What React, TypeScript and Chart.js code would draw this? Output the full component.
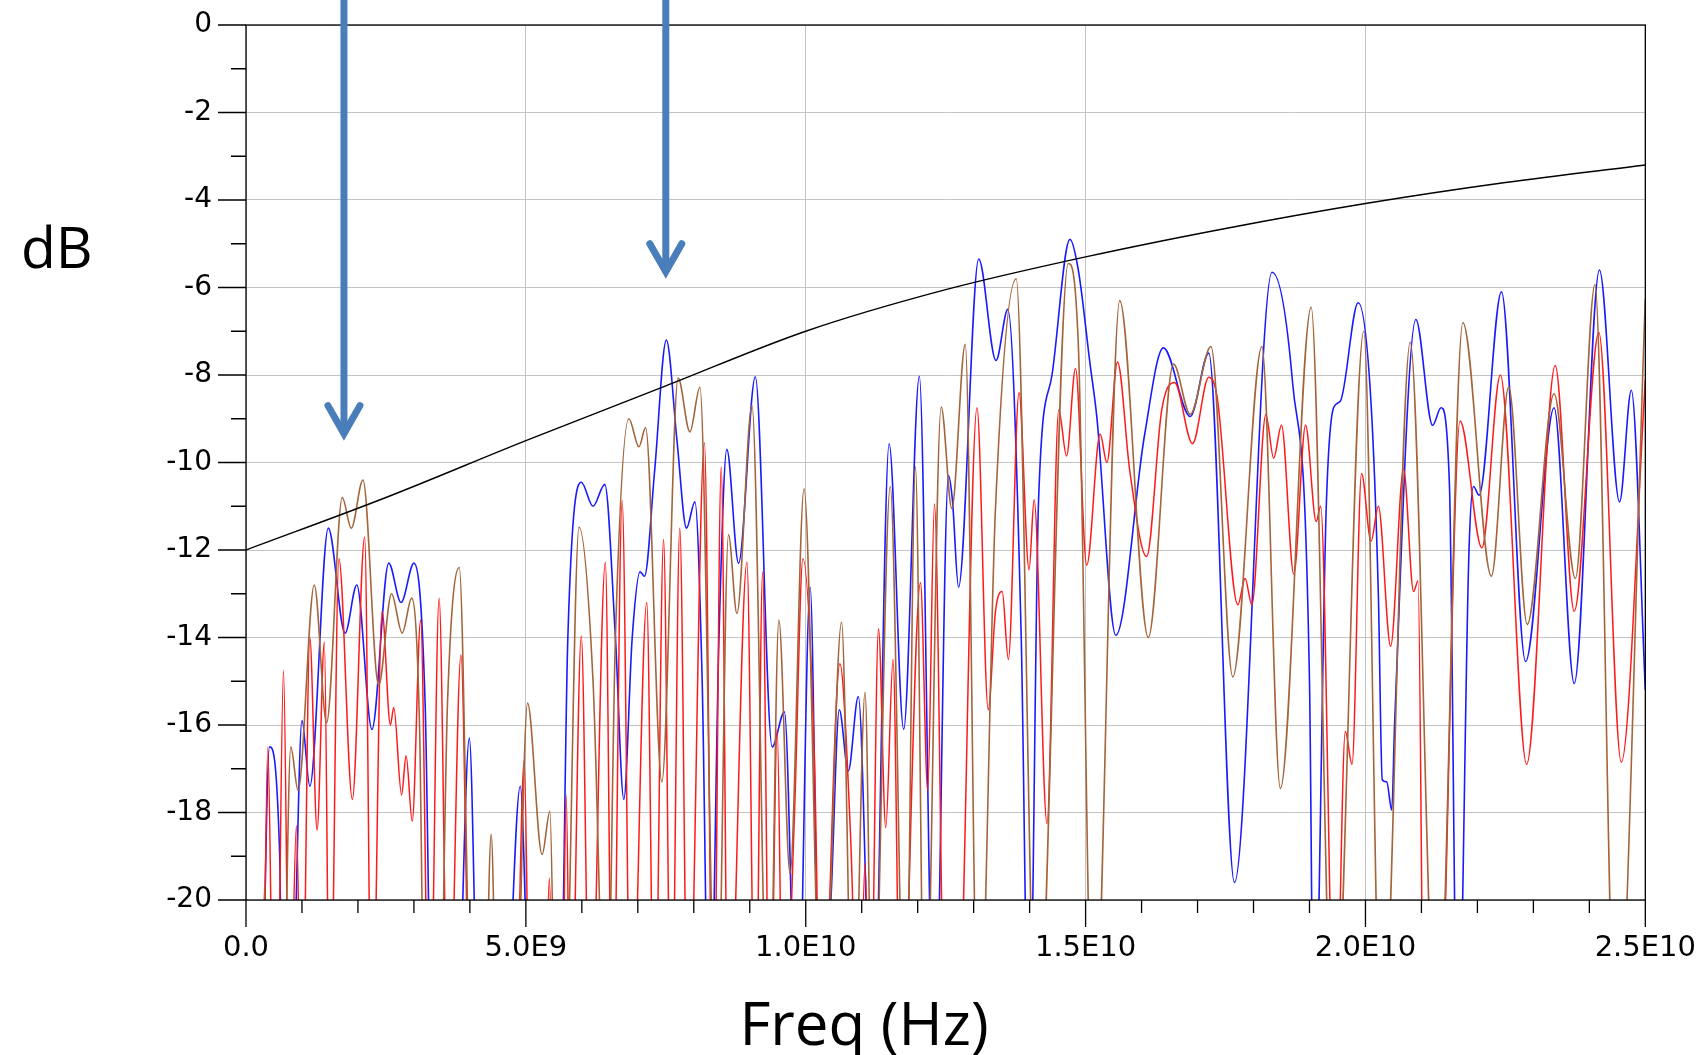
import React, { useEffect, useRef } from 'react';
import { Chart, registerables } from 'chart.js';

Chart.register(...registerables);

const GHZ = 1e9;
const X_MAX_GHZ = 25;
const Y_MIN = -20;
const Y_MAX = 0;

// x tick labels (major ticks every 5 GHz)
const xLabelGhz = [0, 5, 10, 15, 20, 25];
const xLabelText = ['0.0', '5.0E9', '1.0E10', '1.5E10', '2.0E10', '2.5E10'];

// [freq GHz, dB]
const maskTrace = [
  [0, -12], [2.5, -10.8], [5, -9.5], [7.5, -8.25], [10, -7.0], [12.5, -6.05],
  [15, -5.3], [17.5, -4.65], [20, -4.08], [22.5, -3.6], [25, -3.2],
];

const blueTrace = [
  [0, -30], [0.27, -24], [0.42, -16.5], [0.6, -18.9], [0.66, -24], [0.85, -22],
  [1.0, -15.9], [1.14, -17.4], [1.47, -11.5], [1.77, -13.9], [1.98, -12.8], [2.25, -16.1],
  [2.55, -12.3], [2.77, -13.2], [3.0, -12.3], [3.2, -15.5], [3.33, -24], [3.75, -24],
  [3.99, -16.3], [4.17, -24], [4.6, -24], [4.9, -17.4], [5.1, -24], [5.6, -24],
  [5.75, -14], [5.99, -10.45], [6.2, -11.0], [6.41, -10.5], [6.6, -14], [6.75, -17.7],
  [6.9, -14], [7.04, -12.5], [7.12, -12.6], [7.3, -10.2], [7.51, -7.2], [7.7, -9.5],
  [7.87, -11.5], [8.02, -10.9], [8.15, -15], [8.28, -24], [8.45, -14], [8.59, -9.7],
  [8.8, -12.3], [9.1, -8.04], [9.4, -16.5], [9.62, -15.7], [9.85, -24], [10.08, -12.85],
  [10.26, -24], [10.45, -20], [10.6, -15.65], [10.76, -17.05], [10.94, -15.35], [11.2, -24],
  [11.49, -9.57], [11.75, -16.1], [12.03, -8.03], [12.3, -24], [12.55, -10.3], [12.62, -10.85],
  [12.73, -12.85], [13.09, -5.35], [13.4, -7.67], [13.61, -6.5], [13.85, -14], [13.99, -24],
  [14.16, -10.85], [14.4, -8.0], [14.72, -4.9], [14.87, -5.6], [15.08, -7.75], [15.2, -8.95],
  [15.54, -13.95], [16.05, -9.4], [16.39, -7.38], [16.87, -8.95], [17.2, -7.5], [17.66, -19.6],
  [18.33, -5.65], [18.7, -8.2], [19.0, -15], [19.08, -24], [19.3, -11], [19.43, -8.75],
  [19.55, -8.6], [19.87, -6.35], [20.1, -8.65], [20.23, -13], [20.3, -17.25], [20.38, -17.3],
  [20.47, -17.95], [20.52, -16], [20.9, -6.73], [21.2, -9.15], [21.35, -8.75], [21.5, -10.5],
  [21.65, -24], [21.85, -12], [21.93, -10.55], [22.03, -10.75], [22.43, -6.1], [22.86, -14.55],
  [23.37, -8.75], [23.73, -15.05], [24.18, -5.6], [24.54, -10.9], [24.75, -8.35], [25.0, -15.2],
];

const brownTrace = [
  [0, -30], [0.28, -24], [0.33, -19.7], [0.4, -24], [0.65, -24], [0.8, -16.5],
  [0.93, -17.5], [1.22, -12.8], [1.44, -15.95], [1.72, -10.8], [1.88, -11.5], [2.09, -10.4],
  [2.37, -15.1], [2.6, -13.0], [2.79, -13.9], [2.96, -13.1], [3.1, -16], [3.2, -24],
  [3.45, -24], [3.6, -15.5], [3.81, -12.4], [4.05, -24], [4.25, -24], [4.38, -18.5],
  [4.5, -24], [4.8, -24], [5.03, -15.5], [5.29, -18.96], [5.43, -17.97], [5.54, -24],
  [5.68, -24], [5.95, -11.48], [6.2, -15], [6.44, -24], [6.6, -14], [6.84, -9.0],
  [7.02, -9.64], [7.14, -9.2], [7.43, -17.3], [7.72, -8.07], [7.93, -9.3], [8.11, -8.28],
  [8.41, -24], [8.62, -11.65], [8.77, -13.45], [9.04, -8.7], [9.34, -24], [9.52, -13.6],
  [9.72, -19.4], [9.97, -10.6], [10.3, -24], [10.64, -13.65], [10.85, -24], [11.06, -15.25],
  [11.2, -24], [11.51, -10.55], [11.78, -24], [11.96, -10.1], [12.13, -24], [12.42, -8.73],
  [12.61, -11.05], [12.85, -7.3], [13.09, -24], [13.39, -11.05], [13.76, -5.8], [14.13, -24],
  [14.69, -5.45], [14.87, -7.3], [15.14, -24], [15.61, -6.3], [16.12, -14.0], [16.57, -7.75],
  [16.87, -8.9], [17.24, -7.35], [17.63, -14.9], [18.15, -7.35], [18.48, -17.45], [19.03, -6.45],
  [19.43, -24], [19.97, -7.0], [20.29, -24], [20.8, -7.25], [21.28, -24], [21.74, -6.8],
  [22.25, -12.6], [22.56, -8.27], [22.89, -13.7], [23.37, -8.43], [23.75, -12.65], [24.1, -5.93],
  [24.48, -24], [25.0, -6.25],
];

const redTrace = [
  [0, -30], [0.3, -24], [0.39, -16.5], [0.5, -24], [0.55, -24], [0.67, -14.75],
  [0.78, -24], [0.9, -18.3], [1.0, -24], [1.14, -14.0], [1.27, -18.4], [1.4, -14.1],
  [1.5, -24], [1.66, -12.2], [1.9, -17.7], [2.12, -11.7], [2.25, -24], [2.43, -13.4],
  [2.58, -16.0], [2.64, -15.6], [2.78, -17.6], [2.86, -16.7], [2.97, -18.2], [3.12, -13.6],
  [3.28, -24], [3.45, -13.1], [3.62, -24], [3.84, -14.4], [4.02, -24], [4.8, -24],
  [4.97, -16.8], [5.08, -24], [5.32, -24], [5.42, -19.5], [5.5, -24], [5.64, -24],
  [5.72, -17.6], [5.8, -24], [5.99, -13.97], [6.15, -24], [6.42, -12.28], [6.55, -24],
  [6.72, -10.87], [6.88, -24], [7.16, -13.2], [7.3, -24], [7.46, -11.76], [7.6, -24],
  [7.75, -11.5], [7.9, -24], [8.19, -9.55], [8.35, -24], [8.49, -10.1], [8.62, -24],
  [8.95, -12.28], [9.1, -24], [9.23, -12.5], [9.36, -24], [9.49, -16.1], [9.6, -24],
  [9.8, -18], [9.95, -12.2], [10.15, -16.5], [10.28, -24], [10.61, -14.6], [10.8, -18.5],
  [10.95, -24], [11.06, -19.15], [11.15, -24], [11.3, -13.8], [11.43, -18.35], [11.56, -14.5],
  [11.7, -24], [12.05, -12.75], [12.18, -17.5], [12.3, -10.95], [12.5, -24], [12.7, -24],
  [13.06, -8.75], [13.26, -15.65], [13.39, -13.4], [13.51, -12.95], [13.62, -14.5], [13.81, -8.4],
  [13.99, -12.45], [14.08, -10.85], [14.31, -18.25], [14.52, -8.8], [14.66, -9.85], [14.82, -7.85],
  [15.02, -12.35], [15.26, -9.35], [15.38, -10.0], [15.57, -7.7], [15.79, -10.2], [16.09, -12.15],
  [16.36, -8.8], [16.59, -8.17], [16.91, -9.57], [17.2, -8.05], [17.35, -8.5], [17.72, -13.25],
  [17.85, -12.65], [17.97, -13.25], [18.22, -8.9], [18.36, -9.9], [18.5, -9.15], [18.72, -12.55],
  [18.93, -9.15], [19.12, -11.35], [19.2, -11.0], [19.46, -24], [19.64, -16.15], [19.76, -16.9],
  [19.93, -10.25], [20.1, -11.8], [20.23, -11.0], [20.45, -14.2], [20.68, -10.15], [20.86, -12.95],
  [20.94, -12.7], [21.05, -24], [21.3, -24], [21.69, -9.05], [22.08, -11.95], [22.41, -8.0],
  [22.88, -16.9], [23.39, -7.78], [23.73, -13.4], [24.17, -7.03], [24.57, -16.85], [25.0, -8.1],
];

// annotation arrows: position (GHz) and tip level (dB)
const arrowGhz = [1.75, 7.5];
const arrowTipDb = [-9.5, -5.8];

const toPoints = (trace: number[][]) => trace.map(([f, d]) => ({ x: f * GHZ, y: d }));

const decorPlugin = {
  id: 'decor',
  afterDatasetsDraw(chart: any) {
    const { ctx, chartArea: a, scales } = chart;
    const xs = scales.x;
    const ys = scales.y;
    ctx.save();
    ctx.strokeStyle = '#000';
    ctx.lineWidth = 1.3;
    ctx.strokeRect(a.left, a.top, a.right - a.left, a.bottom - a.top);
    ctx.beginPath();
    for (let v = Y_MIN; v <= Y_MAX; v++) {
      const p = ys.getPixelForValue(v);
      const len = v % 2 === 0 ? 28 : 15;
      ctx.moveTo(a.left - len, p);
      ctx.lineTo(a.left, p);
    }
    for (let g = 0; g <= X_MAX_GHZ; g++) {
      const p = xs.getPixelForValue(g * GHZ);
      const len = g % 5 === 0 ? 27 : 13;
      ctx.moveTo(p, a.bottom);
      ctx.lineTo(p, a.bottom + len);
    }
    ctx.stroke();

    ctx.strokeStyle = '#4a7ebb';
    ctx.lineWidth = 7;
    arrowGhz.forEach((g, i) => {
      const px = xs.getPixelForValue(g * GHZ);
      const tip = ys.getPixelForValue(arrowTipDb[i]);
      const tp = tip - 7;
      ctx.lineCap = 'butt';
      ctx.beginPath();
      ctx.moveTo(px, 0);
      ctx.lineTo(px, tp);
      ctx.stroke();
      ctx.lineJoin = 'miter';
      ctx.lineCap = 'round';
      ctx.beginPath();
      ctx.moveTo(px - 16, tp - 28);
      ctx.lineTo(px, tp);
      ctx.lineTo(px + 16, tp - 28);
      ctx.stroke();
    });

    ctx.fillStyle = '#000';
    ctx.textBaseline = 'alphabetic';
    ctx.textAlign = 'left';
    ctx.font = '57px "Open Sans"';
    ctx.fillText('dB', 21, 268);
    ctx.textAlign = 'center';
    ctx.font = '60px "Open Sans"';
    ctx.fillText('Freq (Hz)', 864, 1045);
    ctx.restore();
  },
};

export default function App() {
  const canvasRef = useRef<HTMLCanvasElement | null>(null);

  useEffect(() => {
    const canvas = canvasRef.current;
    if (!canvas) return;
    const lineDs = (label: string, trace: number[][], color: string, width: number) => ({
      label,
      data: toPoints(trace),
      borderColor: color,
      backgroundColor: color,
      borderWidth: width,
      pointRadius: 0,
      fill: false,
      cubicInterpolationMode: 'monotone' as const,
    });
    const chart = new Chart(canvas, {
      type: 'line',
      data: {
        datasets: [
          lineDs('mask', maskTrace, '#000000', 1.4),
          lineDs('brown', brownTrace, '#a3653b', 1.6),
          lineDs('red', redTrace, '#ff1a1a', 1.5),
          lineDs('blue', blueTrace, '#1a1aff', 1.6),
        ],
      },
      plugins: [decorPlugin],
      options: {
        animation: false,
        responsive: false,
        devicePixelRatio: 1,
        layout: { padding: { top: 25, right: 54, left: 0, bottom: 0 } },
        plugins: { legend: { display: false }, tooltip: { enabled: false } },
        scales: {
          x: {
            type: 'linear',
            min: 0,
            max: X_MAX_GHZ * GHZ,
            afterFit: (s: any) => { s.height = 155; },
            afterBuildTicks: (s: any) => {
              const t = [];
              for (let g = 0; g <= X_MAX_GHZ; g++) t.push({ value: g * GHZ });
              s.ticks = t;
            },
            border: { display: false },
            grid: {
              tickLength: 27,
              tickColor: 'rgba(0,0,0,0)',
              lineWidth: 1,
              color: (c: any) => {
                const g = Math.round(c.tick.value / GHZ);
                return g % 5 === 0 ? '#c4c4c4' : 'rgba(0,0,0,0)';
              },
            },
            ticks: {
              autoSkip: false,
              maxRotation: 0,
              padding: 4,
              color: '#000',
              font: { family: 'DejaVu Sans', size: 29 },
              callback: (v: any) => {
                const g = Number(v) / GHZ;
                const i = xLabelGhz.findIndex((q) => Math.abs(q - g) < 1e-6);
                return i >= 0 ? xLabelText[i] : '';
              },
            },
          },
          y: {
            type: 'linear',
            min: Y_MIN,
            max: Y_MAX,
            afterFit: (s: any) => { s.width = 246; },
            afterBuildTicks: (s: any) => {
              const t = [];
              for (let v = Y_MIN; v <= Y_MAX; v++) t.push({ value: v });
              s.ticks = t;
            },
            border: { display: false },
            grid: {
              tickLength: 28,
              tickColor: 'rgba(0,0,0,0)',
              lineWidth: 1,
              color: (c: any) => (Math.round(c.tick.value) % 2 === 0 ? '#c4c4c4' : 'rgba(0,0,0,0)'),
            },
            ticks: {
              autoSkip: false,
              padding: 6,
              color: '#000',
              font: { family: 'DejaVu Sans', size: 28 },
              callback: (v: any) => (Math.round(Number(v)) % 2 === 0 ? String(Math.round(Number(v))) : ''),
            },
          },
        },
      },
    });
    return () => chart.destroy();
  }, []);

  return (
    <div style={{ position: 'fixed', left: 0, top: 0, width: 1700, height: 1055, background: '#fff' }}>
      <canvas ref={canvasRef} width={1700} height={1055} style={{ display: 'block', width: 1700, height: 1055 }} />
    </div>
  );
}
